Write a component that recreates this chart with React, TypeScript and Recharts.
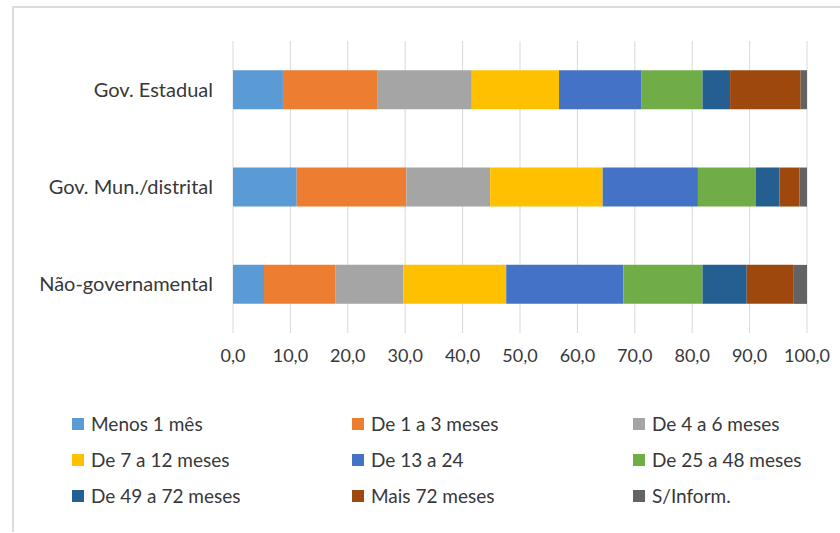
import { BarChart, Bar, XAxis, YAxis, CartesianGrid } from "recharts";

const categories = ["Gov. Estadual", "Gov. Mun./distrital", "Não-governamental"];

const seriesNames = [
  "Menos 1 mês",
  "De 1 a 3 meses",
  "De 4 a 6 meses",
  "De 7 a 12 meses",
  "De 13 a 24",
  "De 25 a 48 meses",
  "De 49 a 72 meses",
  "Mais 72 meses",
  "S/Inform.",
];

const colors = [
  "#5b9bd5",
  "#ed7d31",
  "#a5a5a5",
  "#ffc000",
  "#4472c4",
  "#70ad47",
  "#255e91",
  "#9e480e",
  "#636363",
];

// one array per category, in series order
const govEstadual = [8.7, 16.4, 16.5, 15.2, 14.3, 10.7, 4.8, 12.3, 1.1];
const govMunicipal = [11.1, 19.1, 14.6, 19.6, 16.6, 10.1, 4.1, 3.5, 1.3];
const naoGov = [5.4, 12.4, 11.9, 17.9, 20.4, 13.8, 7.7, 8.2, 2.3];

const xTicks = [0, 10, 20, 30, 40, 50, 60, 70, 80, 90, 100];

const rows = [govEstadual, govMunicipal, naoGov];
const data = categories.map((name, i) => {
  const row: Record<string, number | string> = { name };
  seriesNames.forEach((s, j) => {
    row[s] = rows[i][j];
  });
  return row;
});

const font = "Lato, 'Open Sans', sans-serif";
const textColor = "#383838";

export default function App() {
  return (
    <div
      style={{
        position: "fixed",
        left: 0,
        top: 0,
        width: 840,
        height: 533,
        background: "#fff",
        fontFamily: font,
      }}
    >
      <div
        style={{
          position: "absolute",
          left: 12,
          top: 6,
          width: 828,
          height: 524,
          borderTop: "2px solid #dcdcdc",
          borderLeft: "2px solid #dcdcdc",
        }}
      />
      <div style={{ position: "absolute", left: 0, top: 0 }}>
        <BarChart
          width={840}
          height={380}
          data={data}
          layout="vertical"
          barCategoryGap="30%"
          margin={{ top: 41, right: 33, left: 0, bottom: 17 }}
        >
          <CartesianGrid horizontal={false} stroke="#d9d9d9" />
          <XAxis
            type="number"
            domain={[0, 100]}
            ticks={xTicks}
            axisLine={false}
            tickLine={false}
            tickMargin={10}
            height={30}
            tickFormatter={(v: number) => v.toFixed(1).replace(".", ",")}
            tick={{ fill: textColor, fontSize: 18, fontFamily: font }}
          />
          <YAxis
            type="category"
            dataKey="name"
            width={233}
            axisLine={false}
            tickLine={false}
            tickMargin={14}
            tick={{ fill: textColor, fontSize: 20, fontFamily: font }}
          />
          {seriesNames.map((s, i) => (
            <Bar
              key={s}
              dataKey={s}
              stackId="a"
              fill={colors[i]}
              isAnimationActive={false}
            />
          ))}
        </BarChart>
      </div>
      <div
        style={{
          position: "absolute",
          left: 72,
          top: 412,
          display: "grid",
          gridTemplateColumns: "280px 281px 190px",
          rowGap: 13,
          color: textColor,
          fontSize: 19,
        }}
      >
        {seriesNames.map((s, i) => (
          <div key={s} style={{ display: "flex", alignItems: "center", height: 23 }}>
            <span
              style={{
                display: "inline-block",
                width: 12,
                height: 12,
                background: colors[i],
                marginRight: 7,
              }}
            />
            {s}
          </div>
        ))}
      </div>
    </div>
  );
}
